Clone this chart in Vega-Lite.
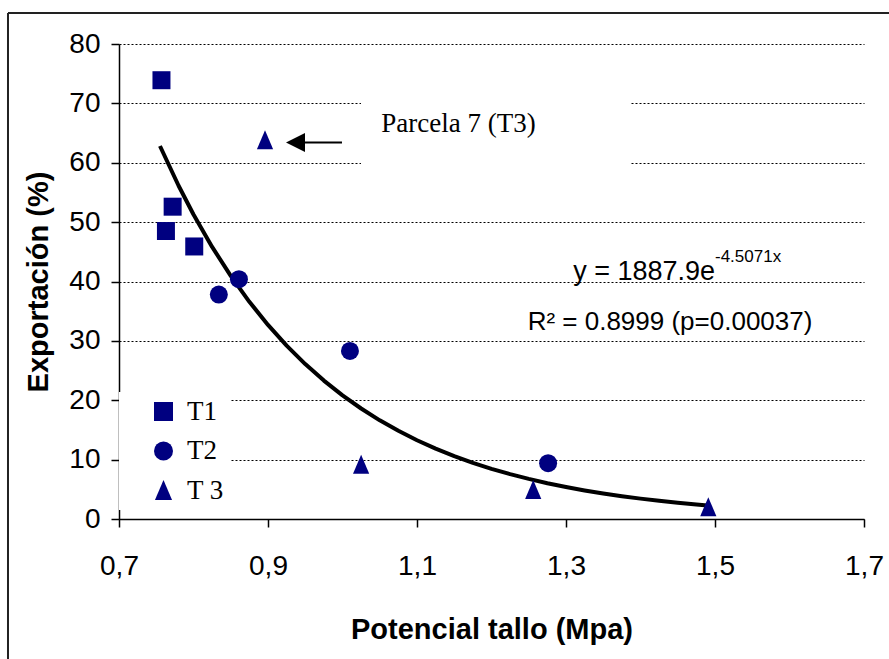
{
  "$schema": "https://vega.github.io/schema/vega-lite/v6.json",
  "width": 745,
  "height": 475,
  "autosize": {"type": "none"},
  "padding": {"left": 119, "top": 44, "right": 25, "bottom": 140},
  "background": "white",
  "config": {"view": {"stroke": null}, "font": "Liberation Sans"},
  "datasets": {
    "points": [
      {"x": 0.757, "y": 73.9, "trat": "T1"},
      {"x": 0.772, "y": 52.6, "trat": "T1"},
      {"x": 0.763, "y": 48.5, "trat": "T1"},
      {"x": 0.801, "y": 45.9, "trat": "T1"},
      {"x": 0.834, "y": 37.8, "trat": "T2"},
      {"x": 0.861, "y": 40.4, "trat": "T2"},
      {"x": 1.010, "y": 28.3, "trat": "T2"},
      {"x": 1.276, "y": 9.4, "trat": "T2"},
      {"x": 0.896, "y": 63.8, "trat": "T 3"},
      {"x": 1.025, "y": 9.15, "trat": "T 3"},
      {"x": 1.256, "y": 4.9, "trat": "T 3"},
      {"x": 1.491, "y": 2.0, "trat": "T 3"}
    ],
    "trend": [
      {"x": 0.755, "y": 62.82},
      {"x": 0.78, "y": 56.13},
      {"x": 0.8, "y": 51.29},
      {"x": 0.825, "y": 45.83},
      {"x": 0.85, "y": 40.94},
      {"x": 0.875, "y": 36.58},
      {"x": 0.9, "y": 32.68},
      {"x": 0.925, "y": 29.2},
      {"x": 0.95, "y": 26.09},
      {"x": 0.975, "y": 23.31},
      {"x": 1.0, "y": 20.82},
      {"x": 1.025, "y": 18.61},
      {"x": 1.05, "y": 16.62},
      {"x": 1.075, "y": 14.85},
      {"x": 1.1, "y": 13.27},
      {"x": 1.125, "y": 11.85},
      {"x": 1.15, "y": 10.59},
      {"x": 1.175, "y": 9.46},
      {"x": 1.2, "y": 8.45},
      {"x": 1.225, "y": 7.55},
      {"x": 1.25, "y": 6.75},
      {"x": 1.275, "y": 6.03},
      {"x": 1.3, "y": 5.39},
      {"x": 1.325, "y": 4.81},
      {"x": 1.35, "y": 4.3},
      {"x": 1.375, "y": 3.84},
      {"x": 1.4, "y": 3.43},
      {"x": 1.425, "y": 3.07},
      {"x": 1.45, "y": 2.74},
      {"x": 1.475, "y": 2.45},
      {"x": 1.49, "y": 2.29}
    ]
  },
  "layer": [
    {
      "data": {"values": [{"x": 1.0248, "x2": 1.3859, "y": 70.6, "y2": 59.6}]},
      "mark": {"type": "rect", "color": "white", "opacity": 1},
      "encoding": {
        "x": {
          "field": "x", "type": "quantitative",
          "scale": {"domain": [0.7, 1.7], "nice": false, "zero": false},
          "axis": {
            "values": [0.7, 0.9, 1.1, 1.3, 1.5, 1.7],
            "labelExpr": "replace(format(datum.value, '.1f'), '.', ',')",
            "title": "Potencial tallo (Mpa)",
            "titleFont": "Liberation Sans", "titleFontSize": 29, "titleFontWeight": "bold",
            "titleColor": "black", "titlePadding": 35,
            "labelFont": "Liberation Sans", "labelFontSize": 28, "labelColor": "black",
            "labelPadding": 25, "labelFlush": false,
            "tickSize": 8, "tickColor": "black", "tickWidth": 1.5,
            "domainColor": "black", "domainWidth": 1.5, "grid": false
          }
        },
        "x2": {"field": "x2"},
        "y": {
          "field": "y", "type": "quantitative",
          "scale": {"domain": [0, 80], "nice": false},
          "axis": {
            "values": [0, 10, 20, 30, 40, 50, 60, 70, 80],
            "title": "Exportación (%)",
            "titleFont": "Liberation Sans", "titleFontSize": 29, "titleFontWeight": "bold",
            "titleColor": "black", "titlePadding": 15,
            "labelFont": "Liberation Sans", "labelFontSize": 28, "labelColor": "black",
            "labelPadding": 11, "labelFlush": false,
            "tickSize": 8, "tickColor": "black", "tickWidth": 1.5,
            "domainColor": "black", "domainWidth": 1.5,
            "grid": true, "gridColor": "black", "gridDash": [2, 2], "gridWidth": 1, "gridOpacity": 1
          }
        },
        "y2": {"field": "y2"}
      }
    },
    {
      "data": {"name": "trend"},
      "mark": {"type": "line", "color": "black", "strokeWidth": 4, "strokeJoin": "round"},
      "encoding": {
        "x": {"field": "x", "type": "quantitative"},
        "y": {"field": "y", "type": "quantitative"}
      }
    },
    {
      "data": {"name": "points"},
      "mark": {"type": "point", "filled": true, "color": "#000080", "opacity": 1, "size": 324},
      "encoding": {
        "x": {"field": "x", "type": "quantitative"},
        "y": {"field": "y", "type": "quantitative"},
        "shape": {
          "field": "trat", "type": "nominal",
          "scale": {"domain": ["T1", "T2", "T 3"], "range": ["square", "circle", "M0,-1.1L0.9,1L-0.9,1Z"]},
          "legend": {
            "title": null, "orient": "none", "legendX": 0, "legendY": 348,
            "fillColor": "white", "padding": 6,
            "symbolSize": 361, "symbolFillColor": "#000080", "symbolStrokeColor": "#000080",
            "symbolStrokeWidth": 0, "symbolOpacity": 1, "symbolOffset": 25,
            "labelOffset": 10, "labelFont": "Liberation Serif", "labelFontSize": 27,
            "labelColor": "black", "rowPadding": 11.5
          }
        }
      }
    },
    {
      "mark": {"type": "rule", "color": "black", "strokeWidth": 1.5},
      "encoding": {"x": {"datum": 1.7, "type": "quantitative"}}
    },
    {
      "data": {"values": [{"x": 0.9369, "x2": 0.9993, "y": 63.4}]},
      "mark": {"type": "rule", "color": "black", "strokeWidth": 2},
      "encoding": {
        "x": {"field": "x", "type": "quantitative"},
        "x2": {"field": "x2"},
        "y": {"field": "y", "type": "quantitative"}
      }
    },
    {
      "data": {"values": [{"x": 0.9369, "y": 63.4}]},
      "mark": {"type": "point", "filled": true, "color": "black", "opacity": 1, "size": 361, "shape": "M-1,0L1,-1L1,1Z"},
      "encoding": {
        "x": {"field": "x", "type": "quantitative"},
        "y": {"field": "y", "type": "quantitative"}
      }
    },
    {
      "data": {"values": [{"x": 1.052, "y": 65.2, "t": "Parcela 7 (T3)"}]},
      "mark": {"type": "text", "font": "Liberation Serif", "fontSize": 27, "align": "left", "baseline": "alphabetic", "color": "black"},
      "encoding": {
        "x": {"field": "x", "type": "quantitative"},
        "y": {"field": "y", "type": "quantitative"},
        "text": {"field": "t"}
      }
    },
    {
      "data": {"values": [{"x": 1.5, "y": 40.25, "t": "y = 1887.9e"}]},
      "mark": {"type": "text", "font": "Liberation Sans", "fontSize": 27, "align": "right", "baseline": "alphabetic", "color": "black"},
      "encoding": {
        "x": {"field": "x", "type": "quantitative"},
        "y": {"field": "y", "type": "quantitative"},
        "text": {"field": "t"}
      }
    },
    {
      "data": {"values": [{"x": 1.5, "y": 43.3, "t": "-4.5071x"}]},
      "mark": {"type": "text", "font": "Liberation Sans", "fontSize": 17, "align": "left", "baseline": "alphabetic", "color": "black"},
      "encoding": {
        "x": {"field": "x", "type": "quantitative"},
        "y": {"field": "y", "type": "quantitative"},
        "text": {"field": "t"}
      }
    },
    {
      "data": {"values": [{"x": 1.4396, "y": 31.83, "t": "R² = 0.8999 (p=0.00037)"}]},
      "mark": {"type": "text", "font": "Liberation Sans", "fontSize": 26, "align": "center", "baseline": "alphabetic", "color": "black"},
      "encoding": {
        "x": {"field": "x", "type": "quantitative"},
        "y": {"field": "y", "type": "quantitative"},
        "text": {"field": "t"}
      }
    },
    {
      "data": {"values": [{"x": 0.551, "y": 85.22, "y2": -30}]},
      "mark": {"type": "rule", "color": "#222222", "strokeWidth": 2},
      "encoding": {
        "x": {"field": "x", "type": "quantitative"},
        "y": {"field": "y", "type": "quantitative"},
        "y2": {"field": "y2"}
      }
    },
    {
      "data": {"values": [{"x": 0.551, "x2": 1.8, "y": 85.22}]},
      "mark": {"type": "rule", "color": "#222222", "strokeWidth": 2},
      "encoding": {
        "x": {"field": "x", "type": "quantitative"},
        "x2": {"field": "x2"},
        "y": {"field": "y", "type": "quantitative"}
      }
    }
  ]
}
